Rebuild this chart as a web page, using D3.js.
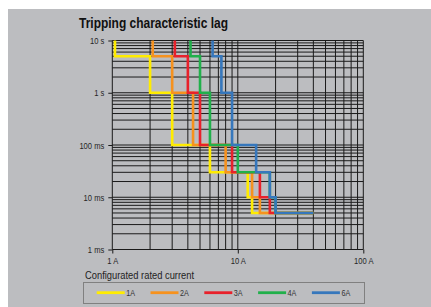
<!DOCTYPE html>
<html>
<head>
<meta charset="utf-8">
<script src="https://cdn.jsdelivr.net/npm/d3@7"></script>
<style>
  html, body { margin: 0; padding: 0; background: #fff; }
  svg { display: block; font-family: "Liberation Sans", Arial, sans-serif; }
</style>
</head>
<body>
<svg id="chart"></svg>
<script>
// tripping levels (s), shared by every curve
const tripTimes = [10, 5, 1, 0.1, 0.03, 0.01, 0.005]

// current (A) where each curve reaches the matching level
const amps1A = [1.05, 2, 3, 6, 12, 13, 40]
const amps2A = [2.1, 3, 4.4, 8, 13, 15, 40]
const amps3A = [3.15, 4, 5, 9, 15, 18, 40]
const amps4A = [4.2, 5, 6, 10, 18, 20, 40]
const amps6A = [6.3, 7.4, 9, 14, 18, 20, 40]

const seriesNames = ["1A", "2A", "3A", "4A", "6A"]
const seriesColors = ["#ffec00", "#f6921e", "#e8212b", "#21b04b", "#3677bc"]

const yTicks = [0.001, 0.01, 0.1, 1, 10]
const yTickLabels = ["1 ms", "10 ms", "100 ms", "1 s", "10 s"]
const xTicks = [1, 10, 100]
const xTickLabels = ["1 A", "10 A", "100 A"]

const width = 431
const height = 307

const svg = d3.select("#chart")
  .attr("width", width)
  .attr("height", height)

// narrow look: squeeze text horizontally
function condense(sel, f) {
  sel.each(function () {
    const w = this.getComputedTextLength()
    d3.select(this).attr("textLength", w * f).attr("lengthAdjust", "spacingAndGlyphs")
  })
}

// gray panel
svg.append("rect")
  .attr("x", 8).attr("y", 9)
  .attr("width", width - 8).attr("height", height - 9)
  .attr("fill", "#bcbdc0")

const x = d3.scaleLog().domain([1, 100]).range([112.3, 363.3])
const y = d3.scaleLog().domain([0.001, 10]).range([249.5, 40.5])

// log grid
const xGrid = []
for (let d = 1; d < 100; d *= 10) for (let k = 1; k < 10; k++) xGrid.push(k * d)
xGrid.push(100)
const yGrid = []
for (let d = 0.001; d < 9; d *= 10) for (let k = 1; k < 10; k++) yGrid.push(+(k * d).toPrecision(3))
yGrid.push(10)

const grid = svg.append("g").attr("class", "grid")
  .attr("stroke", "#1a1a1a").attr("stroke-width", 1)

grid.selectAll("line.v")
  .data(xGrid)
  .join("line")
  .attr("class", "v")
  .attr("x1", (d) => x(d)).attr("x2", (d) => x(d))
  .attr("y1", y(10)).attr("y2", y(0.001))

grid.selectAll("line.h")
  .data(yGrid)
  .join("line")
  .attr("class", "h")
  .attr("y1", (d) => y(d)).attr("y2", (d) => y(d))
  .attr("x1", x(1)).attr("x2", x(100))

// axes
const yAxis = d3.axisLeft(y)
  .tickValues(yTicks)
  .tickFormat((d, i) => yTickLabels[i])
  .tickSize(4)
  .tickPadding(4)

const xAxis = d3.axisBottom(x)
  .tickValues(xTicks)
  .tickFormat((d, i) => xTickLabels[i])
  .tickSize(4)
  .tickPadding(4)

const gy = svg.append("g").attr("transform", `translate(${x(1)},0)`).call(yAxis)
const gx = svg.append("g").attr("transform", `translate(0,${y(0.001)})`).call(xAxis)

;[gx, gy].forEach((g) => {
  g.select(".domain").remove()
  g.selectAll(".tick line").attr("stroke", "#1a1a1a")
  g.selectAll(".tick text")
    .attr("fill", "#262626")
    .attr("font-size", 9.5)
    .attr("font-family", null)
    .call(condense, 0.8)
})

// step curves
const curves = [amps1A, amps2A, amps3A, amps4A, amps6A].map((amps, i) => ({
  name: seriesNames[i],
  color: seriesColors[i],
  points: amps.map((a, j) => [a, tripTimes[j]])
}))

const line = d3.line()
  .x((d) => x(d[0]))
  .y((d) => y(d[1]))
  .curve(d3.curveStepBefore)

svg.append("g")
  .selectAll("path")
  .data(curves)
  .join("path")
  .attr("d", (d) => line(d.points))
  .attr("fill", "none")
  .attr("stroke", (d) => d.color)
  .attr("stroke-width", 2.6)

// texts
svg.append("text")
  .attr("x", 79).attr("y", 27.5)
  .attr("font-size", 14.6)
  .attr("font-weight", "bold")
  .attr("fill", "#111")
  .text("Tripping characteristic lag")
  .call(condense, 0.82)

svg.append("text")
  .attr("x", 85).attr("y", 278.5)
  .attr("font-size", 11.4)
  .attr("fill", "#222")
  .text("Configurated rated current")
  .call(condense, 0.82)

// legend
const legend = svg.append("g")
legend.append("rect")
  .attr("x", 83.5).attr("y", 282.5)
  .attr("width", 281).attr("height", 21)
  .attr("fill", "none")
  .attr("stroke", "#808080")

const item = legend.selectAll("g.item")
  .data(curves)
  .join("g")
  .attr("class", "item")
  .attr("transform", (d, i) => `translate(${96.7 + i * 53.8},292.7)`)

item.append("line")
  .attr("x1", 0).attr("x2", 28)
  .attr("stroke", (d) => d.color)
  .attr("stroke-width", 2.8)

item.append("text")
  .attr("x", 29.5).attr("y", 3.2)
  .attr("font-size", 9)
  .attr("fill", "#333")
  .text((d) => d.name)
  .call(condense, 0.8)
</script>
</body>
</html>
